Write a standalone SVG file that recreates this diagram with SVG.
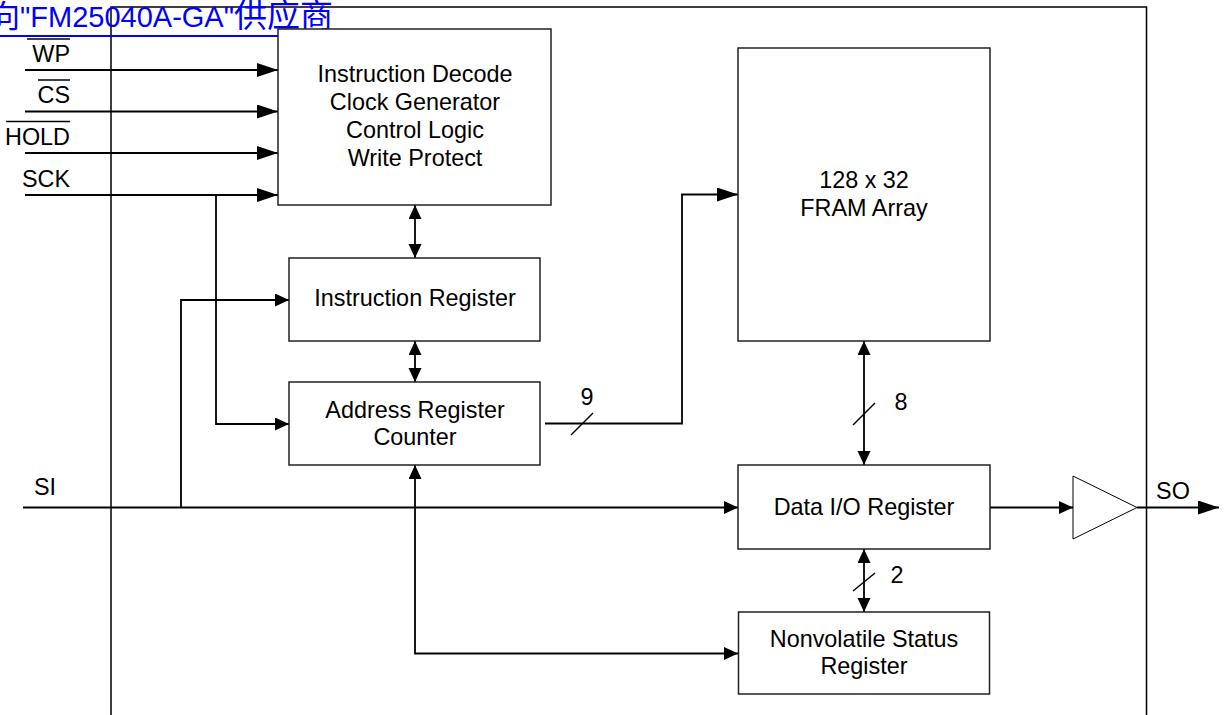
<svg xmlns="http://www.w3.org/2000/svg" width="1225" height="715" viewBox="0 0 1225 715">
<defs>
<style>
.box{fill:#fff;stroke:#222;stroke-width:1.5}
.t{font-family:"Liberation Sans",Arial,sans-serif;font-size:23.4px;fill:#000;text-anchor:middle}
.lbl{font-family:"Liberation Sans",Arial,sans-serif;font-size:23.4px;fill:#000;text-anchor:end}
.w{fill:none;stroke:#000;stroke-width:1.8}
.ah{marker-end:url(#arr)}
.as{marker-end:url(#sarr)}
.dh{marker-start:url(#sarr);marker-end:url(#sarr)}
.sl{stroke:#000;stroke-width:1.5}
</style>
<marker id="arr" markerUnits="userSpaceOnUse" markerWidth="22" markerHeight="15" refX="21" refY="7" orient="auto-start-reverse">
<path d="M0,0 L21,7 L0,14 z" fill="#000"/>
</marker>
<marker id="sarr" markerUnits="userSpaceOnUse" markerWidth="15" markerHeight="14" refX="14" refY="6.5" orient="auto-start-reverse">
<path d="M0,0 L14,6.5 L0,13 z" fill="#000"/>
</marker>
</defs>
<rect width="1225" height="715" fill="#fff"/>
<g id="frame">
<path d="M111,715 V7 H1146.5 V715" fill="none" stroke="#000" stroke-width="1.5"/>
</g>
<g id="title">
<text x="-11" y="27" font-family="'Liberation Sans','Noto Sans CJK SC',sans-serif" font-size="29" fill="#0000ff"><tspan font-family="'Noto Sans CJK SC',sans-serif" font-size="31">向</tspan>"FM25040A-GA"<tspan font-family="'Noto Sans CJK SC',sans-serif" font-size="33">供应商</tspan></text>
<line x1="0" y1="36" x2="335" y2="36" stroke="#0000ff" stroke-width="2"/>
</g>
<g id="pins">
<text class="lbl" x="70" y="62">WP</text>
<line class="sl" x1="27" y1="39" x2="70" y2="39"/>
<text class="lbl" x="70" y="103">CS</text>
<line class="sl" x1="38" y1="80" x2="70" y2="80"/>
<text class="lbl" x="70" y="145">HOLD</text>
<line class="sl" x1="6" y1="121.5" x2="70" y2="121.5"/>
<text class="lbl" x="70" y="187">SCK</text>
<text class="lbl" x="56" y="495">SI</text>
<text class="t" x="1173" y="499">SO</text>
</g>
<g id="connectors">
<path class="w ah" d="M25,70 H278"/>
<path class="w ah" d="M25,111.5 H278"/>
<path class="w ah" d="M25,153 H278"/>
<path class="w ah" d="M25,195 H278"/>
<path class="w as" d="M216,195 V424 H289"/>
<path class="w as" d="M23,507.5 H738"/>
<path class="w as" d="M181,507.5 V300 H289"/>
<path class="w dh" d="M415,205 V258"/>
<path class="w dh" d="M415,341 V382"/>
<path class="w dh" d="M415,465 V653.5 H738"/>
<path class="w ah" d="M545,423.5 H682 V194.5 H738"/>
<path class="w dh" d="M864,341 V465"/>
<path class="w dh" d="M864,549 V612"/>
<path class="w as" d="M990,507.5 H1073"/>
<path class="w ah" d="M1137,507.5 H1219"/>
<line class="sl" x1="571" y1="435" x2="593" y2="413"/>
<line class="sl" x1="853" y1="425" x2="875" y2="403"/>
<line class="sl" x1="853" y1="591" x2="875" y2="573"/>
<text class="t" x="587" y="405">9</text>
<text class="t" x="901" y="410">8</text>
<text class="t" x="897" y="583">2</text>
</g>
<g id="decode">
<rect class="box" x="278" y="29" width="273" height="176"/>
<text class="t" x="415" y="82">Instruction Decode</text>
<text class="t" x="415" y="110">Clock Generator</text>
<text class="t" x="415" y="138">Control Logic</text>
<text class="t" x="415" y="166">Write Protect</text>
</g>
<g id="instr-reg">
<rect class="box" x="289" y="258" width="251" height="83"/>
<text class="t" x="415" y="306">Instruction Register</text>
</g>
<g id="addr-reg">
<rect class="box" x="289" y="382" width="251" height="83"/>
<text class="t" x="415" y="418">Address Register</text>
<text class="t" x="415" y="445">Counter</text>
</g>
<g id="fram">
<rect class="box" x="738" y="48" width="252" height="293"/>
<text class="t" x="864" y="188">128 x 32</text>
<text class="t" x="864" y="216">FRAM Array</text>
</g>
<g id="dataio">
<rect class="box" x="738" y="465" width="252" height="84"/>
<text class="t" x="864" y="515">Data I/O Register</text>
</g>
<g id="status">
<rect class="box" x="738.5" y="612" width="251" height="82"/>
<text class="t" x="864" y="647">Nonvolatile Status</text>
<text class="t" x="864" y="674">Register</text>
</g>
<g id="buffer">
<polygon points="1073,476 1137,507.5 1073,539" fill="#fff" stroke="#000" stroke-width="1"/>
</g>
</svg>
